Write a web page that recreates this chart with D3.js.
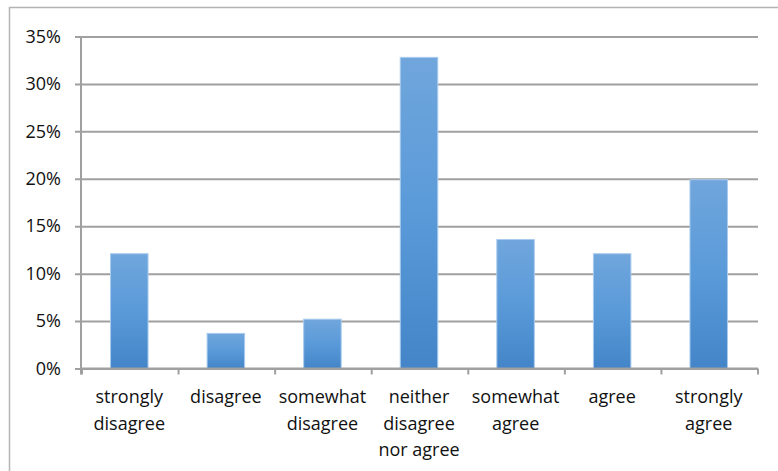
<!DOCTYPE html>
<html>
<head>
<meta charset="utf-8">
<script src="https://cdn.jsdelivr.net/npm/d3@7"></script>
<style>
  html, body { margin: 0; padding: 0; background: #fff; }
  svg { display: block; }
  text { font-family: "Open Sans", sans-serif; fill: #111; }
</style>
</head>
<body>
<svg id="chart" width="778" height="471"></svg>
<script>
// Survey response shares, one per answer option
const categories = [
  ["strongly", "disagree"],
  ["disagree"],
  ["somewhat", "disagree"],
  ["neither", "disagree", "nor agree"],
  ["somewhat", "agree"],
  ["agree"],
  ["strongly", "agree"]
];
const shares = [0.121, 0.037, 0.052, 0.328, 0.136, 0.121, 0.199];
const yTicks = [0, 0.05, 0.10, 0.15, 0.20, 0.25, 0.30, 0.35];

const svg = d3.select("#chart");
const W = 778, H = 471;
const plotLeft = 81, plotRight = 758, plotTop = 36.5, plotBottom = 368.5;

// Frame around the chart area (left and top edges visible)
svg.append("rect")
  .attr("x", 9.5).attr("y", 7.5)
  .attr("width", W + 20).attr("height", H + 20)
  .attr("fill", "none").attr("stroke", "#b4b4b4").attr("stroke-width", 1.5);

const keys = categories.map((c, i) => i);
const x = d3.scaleBand().domain(keys).range([plotLeft + 1, plotRight]).paddingInner(0).paddingOuter(0);
const y = d3.scaleLinear().domain([0, 0.35]).range([plotBottom, plotTop]);

// Gradient fill for bars
const defs = svg.append("defs");
const grad = defs.append("linearGradient")
  .attr("id", "barGrad").attr("x1", 0).attr("y1", 0).attr("x2", 0).attr("y2", 1);
grad.append("stop").attr("offset", "0%").attr("stop-color", "#70a6dc");
grad.append("stop").attr("offset", "50%").attr("stop-color", "#5a9ad9");
grad.append("stop").attr("offset", "100%").attr("stop-color", "#4385c8");

// Horizontal gridlines with left tick stubs
const yAxis = d3.axisLeft(y)
  .tickValues(yTicks)
  .tickSize(-(plotRight - plotLeft + 6))
  .tickPadding(14)
  .tickFormat(d3.format(".0%"));
const gy = svg.append("g").attr("transform", `translate(${plotLeft - 6},0)`).call(yAxis);
gy.select(".domain").remove();
gy.selectAll(".tick line")
  .attr("stroke", "#a0a0a0").attr("stroke-width", 2);
gy.selectAll(".tick text")
  .attr("x", -14)
  .style("font-size", "18px");

// Vertical axis line
svg.append("line")
  .attr("x1", plotLeft).attr("x2", plotLeft)
  .attr("y1", plotTop).attr("y2", plotBottom + 6)
  .attr("stroke", "#a0a0a0").attr("stroke-width", 2);

// Bars
const bw = 37.5;
svg.append("g").selectAll("rect")
  .data(shares)
  .join("rect")
  .attr("x", (d, i) => x(i) + x.bandwidth() / 2 - bw / 2 - 1)
  .attr("y", d => y(d))
  .attr("width", bw)
  .attr("height", d => y(0) - y(d))
  .attr("fill", "url(#barGrad)")
  .attr("stroke", "#a9cbed")
  .attr("stroke-width", 1);

// Category axis with ticks between groups
svg.append("line")
  .attr("x1", plotLeft).attr("x2", plotRight)
  .attr("y1", plotBottom).attr("y2", plotBottom)
  .attr("stroke", "#a0a0a0").attr("stroke-width", 2);
svg.append("g").selectAll("line")
  .data(d3.range(categories.length + 1))
  .join("line")
  .attr("x1", i => i < categories.length ? x(i) : plotRight)
  .attr("x2", i => i < categories.length ? x(i) : plotRight)
  .attr("y1", plotBottom).attr("y2", plotBottom + 6)
  .attr("stroke", "#a0a0a0").attr("stroke-width", 2);

// Category labels, wrapped over several lines
const labels = svg.append("g").selectAll("text")
  .data(categories)
  .join("text")
  .attr("text-anchor", "middle")
  .style("font-size", "18px")
  .attr("transform", (d, i) => `translate(${x(i) + x.bandwidth() / 2 - 1},${plotBottom + 34.5})`);
labels.selectAll("tspan")
  .data(d => d)
  .join("tspan")
  .attr("x", 0)
  .attr("dy", (d, j) => j === 0 ? 0 : 26.5)
  .text(d => d);
</script>
</body>
</html>
